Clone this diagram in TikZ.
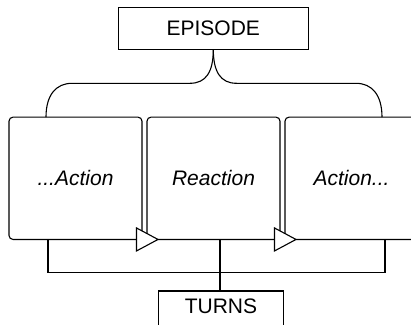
\documentclass[tikz,border=0pt]{standalone}
\usepackage{fontspec}
\setmainfont{Liberation Sans}
\usetikzlibrary{calc}
\begin{document}
\begin{tikzpicture}[x=1pt,y=1pt,line width=1.1pt,
  every node/.style={font=\fontsize{21}{25}\selectfont},
  label box/.style={draw,rectangle,inner sep=0pt,outer sep=0pt,
    minimum width=#1,minimum height=42},
  turn box/.style={draw,rectangle,rounded corners=4pt,inner sep=0pt,outer sep=0pt,
    minimum width=133,minimum height=122.3,fill=white,font=\fontsize{21}{25}\selectfont\itshape},
  open tip/.style={draw,fill=white,line join=miter}]
\useasboundingbox (0,0) rectangle (411,-324);
\clip (0,0) rectangle (411,-324);

% the three turns
\node[turn box] (a1) at (75.5,-178.3) {...Action};
\node[turn box] (re) at (213.5,-178.3) {Reaction};
\node[turn box] (a2) at (351.5,-178.3) {Action...};

% open triangles marking the hand-over between turns
\draw[open tip] ([xshift=-5.5]a1.south east) -- ++(0,11.5) -- ++(21.5,-11.5) -- ++(-21.5,-11.5) -- cycle;
\draw[open tip] ([xshift=-5.5]re.south east) -- ++(0,11.5) -- ++(21.5,-11.5) -- ++(-21.5,-11.5) -- cycle;

% labels
\node[label box=190] (ep) at (213.3,-28.3) {EPISODE};
\node[label box=125,text depth=12pt] (tu) at (221,-312) {TURNS};

% curly brace from the episode down to the turns
\coordinate (bl) at ($(a1.north west)+(37,0)$);
\coordinate (br) at ($(a2.north west)+(97,0)$);
\draw (ep.south) .. controls (213.3,-72) and (206,-83.3) .. (190,-83.3)
  -- (72,-83.3) .. controls (56,-83.3) and (46,-95) .. (bl);
\draw (ep.south) .. controls (213.3,-72) and (220.6,-83.3) .. (236.6,-83.3)
  -- (356,-83.3) .. controls (372,-83.3) and (382,-95) .. (br);

% bracket joining the turns to the TURNS label
\coordinate (t1) at ($(a1.south west)+(39,0)$);
\coordinate (t2) at ($(re.south west)+(73,0)$);
\coordinate (t3) at ($(a2.south west)+(100,0)$);
\coordinate (hub) at (220,-272.3);
\draw (t1) -- (t1 |- hub) -- (t3 |- hub) -- (t3);
\draw (t2) -- (hub) -- (tu.north -| hub);
\end{tikzpicture}
\end{document}
